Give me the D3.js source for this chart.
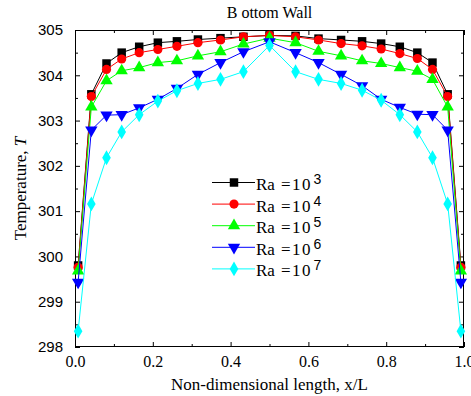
<!DOCTYPE html>
<html><head><meta charset="utf-8">
<script src="https://cdn.jsdelivr.net/npm/d3@7"></script>
<style>body{margin:0;background:#fff}svg{display:block}</style>
</head><body>
<svg id="c" width="471" height="396"></svg>
<script>
const xVals = [0.008,0.042,0.081,0.12,0.165,0.213,0.262,0.316,0.374,0.433,0.5,0.567,0.626,0.684,0.738,0.787,0.835,0.88,0.919,0.958,0.992];
const ra3 = [299.8,303.58,304.26,304.50,304.63,304.72,304.75,304.79,304.82,304.85,304.88,304.87,304.81,304.78,304.75,304.70,304.63,304.50,304.28,303.58,299.8];
const ra4 = [299.76,303.53,304.13,304.36,304.50,304.57,304.64,304.72,304.78,304.85,304.88,304.85,304.78,304.70,304.65,304.58,304.48,304.37,304.13,303.53,299.76];
const ra5 = [299.68,303.30,303.88,304.10,304.17,304.28,304.32,304.43,304.52,304.69,304.82,304.72,304.53,304.43,304.32,304.26,304.17,304.09,303.91,303.30,299.68];
const ra6 = [299.43,302.79,303.12,303.13,303.28,303.47,303.71,304.02,304.28,304.52,304.74,304.50,304.28,304.02,303.77,303.47,303.29,303.14,303.13,302.79,299.43];
const ra7 = [298.35,301.16,302.18,302.75,303.13,303.43,303.66,303.82,303.91,304.08,304.66,304.08,303.91,303.82,303.67,303.45,303.13,302.75,302.18,301.16,298.35];
const seriesNames = ["3","4","5","6","7"];
const xTicks = [0,0.2,0.4,0.6,0.8,1.0];
const xTickLabels = ["0.0","0.2","0.4","0.6","0.8","1.0"];
const yTicks = [298,299,300,301,302,303,304,305];

const W=471,H=396,m={l:75,r:7,t:30,b:49};
const svg=d3.select("#c");
const x=d3.scaleLinear().domain([0,1]).range([m.l,W-m.r]);
const y=d3.scaleLinear().domain([298,305]).range([H-m.b,m.t]);

const series=[
 {v:ra3,color:"#000000",sym:d3.symbolSquare,size:72,rot:0},
 {v:ra4,color:"#ff0000",sym:d3.symbolCircle,size:66,rot:0},
 {v:ra5,color:"#00ff00",sym:d3.symbolTriangle,size:66,rot:0},
 {v:ra6,color:"#0000ff",sym:d3.symbolTriangle,size:66,rot:180},
 {v:ra7,color:"#00ffff",sym:d3.symbolDiamond,size:64,rot:0}
];

const serif="Liberation Serif, Times New Roman, serif";
const sans="Liberation Sans, Arial, sans-serif";

// axes with inward ticks
const minorX=d3.range(0.1,1,0.2);
const minorY=d3.range(298.5,305,1);
function axisG(axis,tr){return svg.append("g").attr("transform",tr).call(axis).call(g=>g.select(".domain").remove());}
const bx=axisG(d3.axisBottom(x).tickValues(xTicks).tickFormat((d,i)=>xTickLabels[i]).tickSizeInner(-5).tickSizeOuter(0).tickPadding(9),`translate(0,${H-m.b})`);
bx.attr("font-family",serif);
bx.selectAll("text").attr("font-family",serif).attr("font-size",16).attr("fill","#000");
axisG(d3.axisBottom(x).tickValues(minorX).tickFormat("").tickSizeInner(-3).tickSizeOuter(0),`translate(0,${H-m.b})`);
axisG(d3.axisTop(x).tickValues(xTicks).tickFormat("").tickSizeInner(-5).tickSizeOuter(0),`translate(0,${m.t})`);
axisG(d3.axisTop(x).tickValues(minorX).tickFormat("").tickSizeInner(-3).tickSizeOuter(0),`translate(0,${m.t})`);
const ly=axisG(d3.axisLeft(y).tickValues(yTicks).tickFormat(d3.format("d")).tickSizeInner(-5).tickSizeOuter(0).tickPadding(12),`translate(${m.l},0)`);
ly.attr("font-family",sans);
ly.selectAll("text").attr("font-family",sans).attr("font-size",15).attr("fill","#000");
axisG(d3.axisLeft(y).tickValues(minorY).tickFormat("").tickSizeInner(-3).tickSizeOuter(0),`translate(${m.l},0)`);
axisG(d3.axisRight(y).tickValues(yTicks).tickFormat("").tickSizeInner(-5).tickSizeOuter(0),`translate(${W-m.r},0)`);
axisG(d3.axisRight(y).tickValues(minorY).tickFormat("").tickSizeInner(-3).tickSizeOuter(0),`translate(${W-m.r},0)`);
svg.selectAll(".tick line").attr("stroke","#000");

// frame
svg.append("rect").attr("x",m.l+0.5).attr("y",m.t+0.5).attr("width",W-m.r-m.l-1).attr("height",H-m.b-m.t-1)
  .attr("fill","none").attr("stroke","#000").attr("stroke-width",1);

// series
const line=d3.line().x((d,i)=>x(xVals[i])).y(d=>y(d));
series.forEach(s=>{
  const g=svg.append("g");
  g.append("path").datum(s.v).attr("d",line).attr("fill","none").attr("stroke",s.color).attr("stroke-width",1);
  g.selectAll("path.m").data(s.v).join("path").attr("class","m")
   .attr("d",d3.symbol().type(s.sym).size(s.size))
   .attr("transform",(d,i)=>`translate(${x(xVals[i])},${y(d)}) rotate(${s.rot})`)
   .attr("fill",s.color);
});

// legend
const lg=svg.append("g");
const legY0=182.5, legDy=21.6;
series.forEach((s,i)=>{
  const yy=legY0+i*legDy;
  lg.append("line").attr("x1",212).attr("x2",255).attr("y1",yy).attr("y2",yy).attr("stroke",s.color).attr("stroke-width",1);
  lg.append("path").attr("d",d3.symbol().type(s.sym).size(s.size)).attr("transform",`translate(234,${yy}) rotate(${s.rot})`).attr("fill",s.color);
  const t=lg.append("text").attr("x",256).attr("y",yy+7.5).attr("font-family",serif).attr("font-size",17).attr("fill","#000");
  t.append("tspan").text("Ra");
  t.append("tspan").attr("x",281).text("=");
  t.append("tspan").attr("x",292).attr("letter-spacing",1.5).text("10");
  lg.append("text").attr("x",313.5).attr("y",yy+1.5).attr("font-family",sans).attr("font-size",14).attr("fill","#000").text(seriesNames[i]);
});

// title & labels
svg.append("text").attr("x",(m.l+W-m.r)/2).attr("y",18).attr("text-anchor","middle")
  .attr("font-family",serif).attr("font-size",16).text("B ottom Wall");
svg.append("text").attr("x",(m.l+W-m.r)/2).attr("y",390).attr("text-anchor","middle")
  .attr("font-family",serif).attr("font-size",17).text("Non-dimensional length, x/L");
const yt=svg.append("text").attr("transform",`translate(26,${(m.t+H-m.b)/2}) rotate(-90)`).attr("text-anchor","middle")
  .attr("font-family",serif).attr("font-size",17);
yt.append("tspan").text("Temperature, ");
yt.append("tspan").attr("font-style","italic").text("T");
</script>
</body></html>
